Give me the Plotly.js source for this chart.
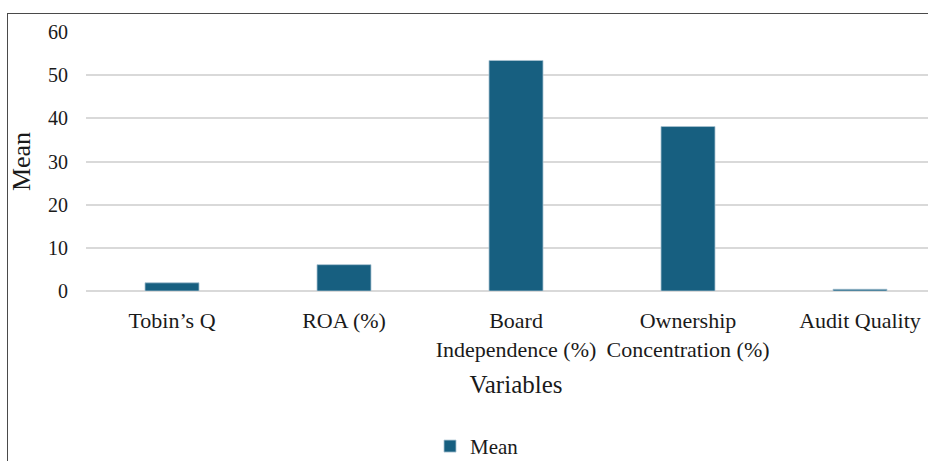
<!DOCTYPE html>
<html>
<head>
<meta charset="utf-8">
<script src="https://cdn.plot.ly/plotly-3.0.1.min.js"></script>
<style>
  html, body { margin: 0; padding: 0; width: 928px; height: 461px; overflow: hidden; background: #fff; }
  #wrap { position: relative; width: 928px; height: 461px; overflow: hidden; }
  #frame { position: absolute; left: 7px; top: 13px; width: 1000px; height: 1000px;
           border-left: 1px solid #4a4a4a; border-top: 1px solid #4a4a4a; pointer-events: none; }
  #chart { position: absolute; left: 0; top: 0; }
</style>
</head>
<body>
<div id="wrap">
  <div id="chart"></div>
  <div id="frame"></div>
</div>
<script>
// Descriptive statistics: mean of each study variable
const categories = [
  "Tobin\u2019s Q",
  "ROA (%)",
  "Board<br>Independence (%)",
  "Ownership<br>Concentration (%)",
  "Audit Quality"
];
const meanValues = [1.9, 6.1, 53.4, 38.1, 0.4];
const yTicks = [0, 10, 20, 30, 40, 50, 60];

const serif = "'Liberation Serif', 'Times New Roman', serif";

const trace = {
  type: "bar",
  name: "Mean",
  x: categories,
  y: meanValues,
  marker: { color: "#175f80", line: { color: "#a9c3d2", width: 0.8 } },
  hoverinfo: "x+y"
};

const layout = {
  width: 960,
  height: 461,
  margin: { l: 86, r: 14, t: 32, b: 170, autoexpand: false },
  paper_bgcolor: "rgba(0,0,0,0)",
  plot_bgcolor: "rgba(0,0,0,0)",
  bargap: 0.686,
  font: { family: serif, color: "#1a1a1a" },
  xaxis: {
    type: "category",
    range: [-0.5, 4.5],
    showgrid: false,
    showline: false,
    zeroline: false,
    ticks: "",
    ticklabelstandoff: 14,
    tickfont: { family: serif, size: 22, color: "#1a1a1a" },
    title: { text: "Variables", font: { family: serif, size: 25, color: "#1a1a1a" }, standoff: 14 }
  },
  yaxis: {
    range: [0, 60],
    tickvals: yTicks,
    ticktext: yTicks.map(String),
    showgrid: true,
    gridcolor: "#d9d9d9",
    gridwidth: 2,
    zeroline: true,
    zerolinecolor: "#d9d9d9",
    zerolinewidth: 2,
    showline: false,
    ticks: "",
    ticklabelstandoff: 17,
    tickfont: { family: serif, size: 20, color: "#1a1a1a" },
    title: { text: "Mean", font: { family: serif, size: 26, color: "#1a1a1a" }, standoff: 9 }
  },
  showlegend: true,
  legend: {
    orientation: "h",
    x: 0.4,
    xanchor: "left",
    y: -0.6,
    yanchor: "middle",
    itemwidth: 30,
    font: { family: serif, size: 21, color: "#1a1a1a" },
    bgcolor: "rgba(0,0,0,0)"
  }
};

Plotly.newPlot("chart", [trace], layout, { displayModeBar: false, staticPlot: true });
</script>
</body>
</html>
